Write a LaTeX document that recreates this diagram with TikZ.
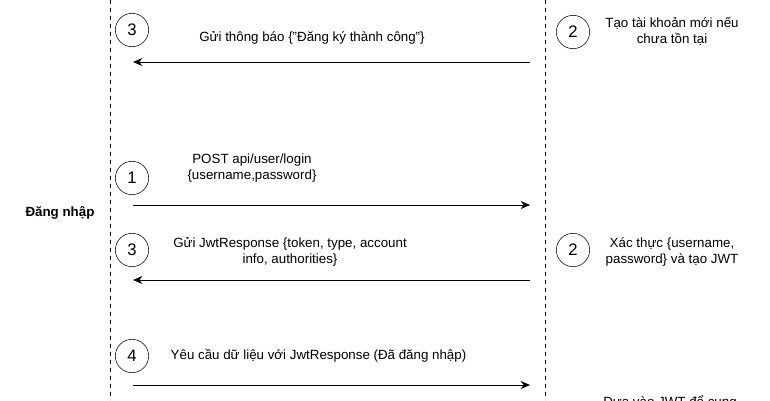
\documentclass[tikz,border=0pt]{standalone}
\usepackage{fontspec}
\setmainfont{Liberation Sans}
\usetikzlibrary{arrows.meta}
\begin{document}
\begin{tikzpicture}[x=0.75pt,y=-0.75pt,
  num/.style={draw,circle,minimum size=25pt,inner sep=0pt,font=\fontsize{12.5}{14}\selectfont},
  lbl/.style={font=\fontsize{10}{12}\selectfont,align=center},
  life/.style={dashed,line width=0.6pt},
  msg/.style={-{Stealth[length=7pt,width=6pt]},line width=0.7pt}]
\useasboundingbox (0,0) rectangle (770,400);
\clip (0,0) rectangle (770,400);
\coordinate (L0) at (110,0); \coordinate (L1) at (110,400);
\coordinate (R0) at (545,0); \coordinate (R1) at (545,400);
\draw[life] (L0) -- (L1);
\draw[life] (R0) -- (R1);
\node[num] (c3a) at (132,30) {3};
\node[lbl] (t3a) at (312,38) {Gửi thông báo \{"Đăng ký thành công"\}};
\coordinate (a1s) at (530,62); \coordinate (a1e) at (133,62);
\draw[msg] (a1s) -- (a1e);
\node[num] (c2a) at (573,32) {2};
\node[lbl] (t2a) at (672,31) {Tạo tài khoản mới nếu\\chưa tồn tại};
\node[font=\fontsize{10}{12}\selectfont\bfseries] (dn) at (60,213) {Đăng nhập};
\node[num] (c1) at (132,178) {1};
\node[lbl] (t1) at (252,168) {POST api/user/login\\\{username,password\}};
\coordinate (a2s) at (133,205); \coordinate (a2e) at (530,205);
\draw[msg] (a2s) -- (a2e);
\node[num] (c3b) at (132,250) {3};
\node[lbl] (t3b) at (290,252) {Gửi JwtResponse \{token, type, account\\info, authorities\}};
\coordinate (a3s) at (530,280); \coordinate (a3e) at (133,280);
\draw[msg] (a3s) -- (a3e);
\node[num] (c2b) at (573,250) {2};
\node[lbl] (t2b) at (672,252) {Xác thực \{username,\\password\} và tạo JWT};
\node[num] (c4) at (132,356) {4};
\node[lbl,anchor=west] (t4) at (166,356) {Yêu cầu dữ liệu với JwtResponse (Đã đăng nhập)};
\coordinate (a4s) at (133,385); \coordinate (a4e) at (530,385);
\draw[msg] (a4s) -- (a4e);
\node[num] (c2c) at (573,418) {};
\node[lbl] (t2c) at (670,410) {Dựa vào JWT để cung\\cấp dữ liệu};
\end{tikzpicture}
\end{document}
